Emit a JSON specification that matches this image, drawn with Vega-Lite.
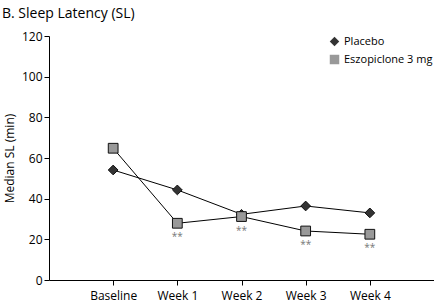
{
  "$schema": "https://vega.github.io/schema/vega-lite/v6.json",
  "width": 385,
  "height": 244,
  "autosize": "none",
  "padding": {"left": 49, "top": 36, "right": 0, "bottom": 26},
  "background": "white",
  "config": {"view": {"stroke": null}, "font": "Open Sans"},
  "title": {"text": "B. Sleep Latency (SL)", "anchor": "start", "frame": "group", "dx": -47, "fontSize": 14, "fontWeight": "normal", "font": "Open Sans", "color": "#000", "offset": 9},
  "data": {"values": [
    {"week": "Baseline", "group": "Placebo", "sl": 54.1, "sig": ""},
    {"week": "Week 1", "group": "Placebo", "sl": 44.3, "sig": ""},
    {"week": "Week 2", "group": "Placebo", "sl": 32.3, "sig": ""},
    {"week": "Week 3", "group": "Placebo", "sl": 36.4, "sig": ""},
    {"week": "Week 4", "group": "Placebo", "sl": 33.0, "sig": ""},
    {"week": "Baseline", "group": "Eszopiclone 3 mg", "sl": 64.8, "sig": ""},
    {"week": "Week 1", "group": "Eszopiclone 3 mg", "sl": 27.9, "sig": "**"},
    {"week": "Week 2", "group": "Eszopiclone 3 mg", "sl": 31.2, "sig": "**"},
    {"week": "Week 3", "group": "Eszopiclone 3 mg", "sl": 24.1, "sig": "**"},
    {"week": "Week 4", "group": "Eszopiclone 3 mg", "sl": 22.5, "sig": "**"}
  ]},
  "encoding": {
    "x": {"field": "week", "type": "ordinal", "sort": null,
      "scale": {"type": "point", "padding": 1},
      "axis": {"title": null, "labelAngle": 0, "labelFontSize": 12, "labelColor": "#000", "domainColor": "#000", "tickColor": "#000", "tickSize": 5, "labelPadding": 5, "grid": false}},
    "y": {"field": "sl", "type": "quantitative",
      "scale": {"domain": [0, 120]},
      "axis": {"title": "Median SL (min)", "values": [0, 20, 40, 60, 80, 100, 120], "titleFontSize": 12, "titleFontWeight": "normal", "titleColor": "#000", "labelFontSize": 12, "labelColor": "#000", "domainColor": "#000", "tickColor": "#000", "tickSize": 5, "labelPadding": 2, "grid": false, "titlePadding": 5}}
  },
  "layer": [
    {"mark": {"type": "line", "color": "#000", "strokeWidth": 1},
     "encoding": {"detail": {"field": "group"}}},
    {"mark": {"type": "point", "filled": true, "stroke": "#111", "strokeWidth": 1, "opacity": 1, "size": 95},
     "encoding": {
       "shape": {"field": "group", "type": "nominal",
         "scale": {"domain": ["Placebo", "Eszopiclone 3 mg"], "range": ["diamond", "square"]},
         "legend": {"title": null, "orient": "none", "legendX": 280, "legendY": 0, "labelFontSize": 11, "labelColor": "#000", "symbolStrokeColor": "#111", "symbolStrokeWidth": 1, "symbolSize": 90, "rowPadding": 3, "labelOffset": 4, "symbolOpacity": 1}},
       "fill": {"field": "group", "type": "nominal",
         "scale": {"domain": ["Placebo", "Eszopiclone 3 mg"], "range": ["#333333", "#999999"]},
         "legend": {"title": null, "orient": "none", "legendX": 280, "legendY": 0, "labelFontSize": 11, "labelColor": "#000", "symbolStrokeColor": "#111", "symbolStrokeWidth": 1, "symbolSize": 90, "rowPadding": 3, "labelOffset": 4, "symbolOpacity": 1}}
     }},
    {"mark": {"type": "text", "dy": 14, "fontSize": 10, "color": "#777"},
     "encoding": {"text": {"field": "sig"}}}
  ]
}
